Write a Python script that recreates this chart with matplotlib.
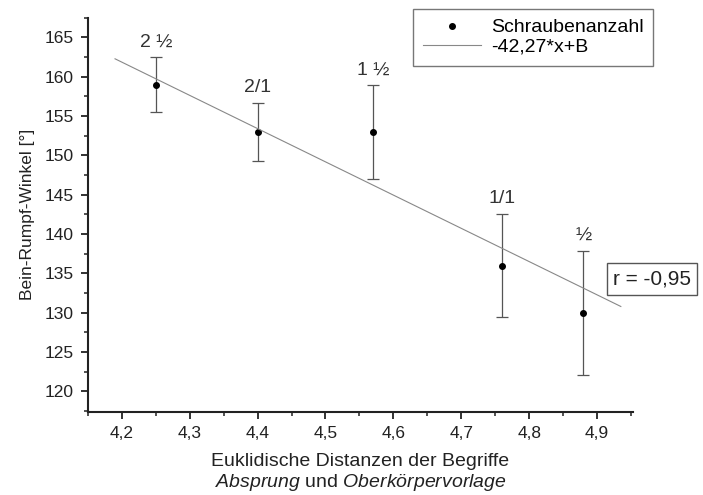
import numpy as np
import matplotlib
matplotlib.use('Agg')
from matplotlib import pyplot as plt
from matplotlib.ticker import MultipleLocator, FuncFormatter

plt.rcParams['font.family'] = ['Liberation Sans', 'DejaVu Sans']
plt.rcParams['mathtext.fontset'] = 'custom'
plt.rcParams['mathtext.rm'] = 'Liberation Sans'
plt.rcParams['mathtext.it'] = 'Liberation Sans:italic'

distances = [4.25, 4.40, 4.57, 4.76, 4.88]
angles = [159, 153, 153, 136, 130]
errors = [3.5, 3.7, 6.0, 6.6, 7.9]
screw_labels = ['2 ½', '2/1', '1 ½', '1/1', '½']
slope = -42.27
intercept = 339.4
fit_range = [4.19, 4.935]

fig = plt.figure(figsize=(7.03, 4.95), dpi=100)
ax = fig.add_axes([0.125, 0.168, 0.7755, 0.796])

ax.errorbar(distances, angles, yerr=errors, fmt='none', ecolor='#555555',
            elinewidth=0.9, capsize=4, capthick=0.9)
pts, = ax.plot(distances, angles, 'o', color='black', markersize=4,
               label='Schraubenanzahl')
xs = np.array(fit_range)
fit, = ax.plot(xs, slope * xs + intercept, '-', color='#888888', lw=0.8,
               label='-42,27*x+B')

for x, y, e, lab in zip(distances, angles, errors, screw_labels):
    ax.text(x, y + e + 0.8, lab, ha='center', va='bottom', fontsize=14,
            color='#333333')

ax.set_xlim(4.15, 4.953)
ax.set_ylim(117.4, 167.5)
ax.xaxis.set_major_locator(MultipleLocator(0.1))
ax.xaxis.set_minor_locator(MultipleLocator(0.05))
ax.yaxis.set_major_locator(MultipleLocator(5))
ax.yaxis.set_minor_locator(MultipleLocator(2.5))
ax.xaxis.set_major_formatter(FuncFormatter(lambda v, p: f'{v:.1f}'.replace('.', ',')))
ax.yaxis.set_major_formatter(FuncFormatter(lambda v, p: f'{v:.0f}'))

for s in ['top', 'right']:
    ax.spines[s].set_visible(False)
for s in ['left', 'bottom']:
    ax.spines[s].set_linewidth(1.5)
    ax.spines[s].set_color('#222222')
ax.tick_params(which='major', direction='out', length=5, width=1.3,
               labelsize=12.5, colors='#222222', pad=5)
ax.tick_params(which='minor', direction='out', length=3, width=1.1,
               colors='#222222')

ax.set_ylabel('Bein-Rumpf-Winkel [°]', fontsize=12.5, color='#222222',
              labelpad=7)
ax.set_xlabel('Euklidische Distanzen der Begriffe\n'
              r'$\mathit{Absprung}$ und $\mathit{Oberkörpervorlage}$',
              fontsize=14, color='#222222', labelpad=9, linespacing=1.1)

leg = fig.legend(handles=[pts, fit], loc='upper left',
                 bbox_to_anchor=(413 / 703, 1 - 9 / 495), fontsize=14,
                 frameon=True, fancybox=False, edgecolor='#555555',
                 borderpad=0.5, handlelength=3.0, labelspacing=0.1,
                 handletextpad=0.5, borderaxespad=0.0)
leg.get_frame().set_linewidth(1.0)

fig.text(652 / 703, 1 - 279 / 495, 'r = -0,95', ha='center', va='center',
         fontsize=15, color='#222222',
         bbox=dict(boxstyle='square,pad=0.3', fc='white', ec='#555555', lw=1.0))

fig.savefig('out.png', dpi=100)
